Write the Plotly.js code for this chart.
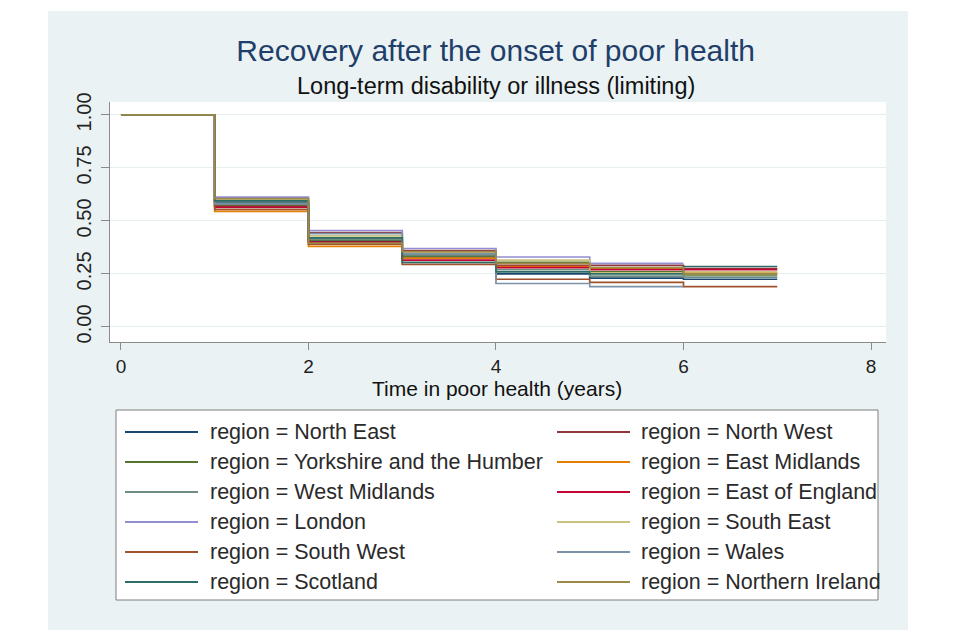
<!DOCTYPE html>
<html>
<head>
<meta charset="utf-8">
<script src="https://cdn.plot.ly/plotly-3.0.1.min.js"></script>
<style>
  html, body { margin: 0; padding: 0; background: #ffffff; width: 960px; height: 640px; overflow: hidden; }
  #chart { position: absolute; left: 48px; top: 11px; width: 860px; height: 619px; }
</style>
</head>
<body>
<div id="chart"></div>
<script>
// ---- Data (survival proportion at the start of each year) ----
const times = [0, 1, 2, 3, 4, 5, 6, 7];

const regionNames = [
  "North East", "North West", "Yorkshire and the Humber", "East Midlands",
  "West Midlands", "East of England", "London", "South East",
  "South West", "Wales", "Scotland", "Northern Ireland"
];

const northEast       = [1, 0.585, 0.405, 0.330, 0.250, 0.230, 0.225];
const northWest       = [1, 0.575, 0.445, 0.360, 0.290, 0.290, 0.275];
const yorkshire       = [1, 0.570, 0.410, 0.335, 0.305, 0.260, 0.245];
const eastMidlands    = [1, 0.545, 0.380, 0.325, 0.285, 0.275, 0.255];
const westMidlands    = [1, 0.590, 0.415, 0.340, 0.270, 0.240, 0.235];
const eastOfEngland   = [1, 0.565, 0.400, 0.315, 0.280, 0.270, 0.270];
const london          = [1, 0.612, 0.455, 0.370, 0.330, 0.300];
const southEast       = [1, 0.600, 0.430, 0.350, 0.315, 0.255, 0.260];
const southWest       = [1, 0.555, 0.390, 0.295, 0.225, 0.210, 0.190];
const wales           = [1, 0.580, 0.440, 0.345, 0.205, 0.190];
const scotland        = [1, 0.595, 0.420, 0.305, 0.260, 0.250, 0.285];
const northernIreland = [1, 0.605, 0.395, 0.355, 0.300, 0.280, 0.250];

const seriesValues = [
  northEast, northWest, yorkshire, eastMidlands, westMidlands, eastOfEngland,
  london, southEast, southWest, wales, scotland, northernIreland
];

const xTicks = [0, 2, 4, 6, 8];
const yTicks = [0, 0.25, 0.5, 0.75, 1];
const yTickText = ["0.00", "0.25", "0.50", "0.75", "1.00"];

// ---- Styles ----
const colors = [
  "#1a476f", "#90353b", "#55752f", "#e37e00", "#6e8e84", "#c10534",
  "#938dd2", "#cac27e", "#a0522d", "#7b92a8", "#2d6d66", "#9c8847"
];
const FONT = "Liberation Sans, Arial, sans-serif";

// ---- Traces (step functions) ----
const traces = seriesValues.map((vals, i) => {
  const n = vals.length;
  const xs = times.slice(0, n + 1);
  const ys = vals.concat([vals[n - 1]]);
  return {
    type: "scatter",
    mode: "lines",
    x: xs,
    y: ys,
    line: { shape: "hv", color: colors[i], width: 1.7 },
    name: "region = " + regionNames[i],
    showlegend: false,
    hoverinfo: "skip"
  };
});

// ---- Manual two-column legend (Stata style) ----
// plot area in page px: left 110, right 886, top 102, bottom 342
const PL = 110, PR = 886, PT = 102, PB = 342;
const px2x = p => (p - PL) / (PR - PL);
const px2y = p => 1 - (p - PT) / (PB - PT);

const shapes = [];
const annotations = [];

shapes.push({
  type: "rect", xref: "paper", yref: "paper",
  x0: px2x(116), x1: px2x(878), y0: px2y(600), y1: px2y(410),
  fillcolor: "#ffffff", line: { color: "#7f7f7f", width: 1 }, layer: "below"
});

regionNames.forEach((nm, i) => {
  const row = Math.floor(i / 2), col = i % 2;
  const yPx = 432 + row * 30;
  const lx0 = col === 0 ? 125 : 557;
  const tx = col === 0 ? 208 : 639;
  shapes.push({
    type: "line", xref: "paper", yref: "paper",
    x0: px2x(lx0), x1: px2x(lx0 + 73), y0: px2y(yPx), y1: px2y(yPx),
    line: { color: colors[i], width: 2 }
  });
  annotations.push({
    xref: "paper", yref: "paper", x: px2x(tx), y: px2y(yPx),
    xanchor: "left", yanchor: "middle", showarrow: false,
    text: "region = " + nm,
    font: { family: FONT, size: 21.5, color: "#2a2a2a" }
  });
});

// subtitle
annotations.push({
  xref: "paper", yref: "paper", x: 0.497, y: px2y(86),
  xanchor: "center", yanchor: "middle", showarrow: false,
  text: "Long-term disability or illness (limiting)",
  font: { family: FONT, size: 23.5, color: "#111111" }
});

// x-axis title
annotations.push({
  xref: "paper", yref: "paper", x: px2x(497), y: px2y(388),
  xanchor: "center", yanchor: "middle", showarrow: false,
  text: "Time in poor health (years)",
  font: { family: FONT, size: 21, color: "#111111" }
});

const layout = {
  width: 860, height: 619,
  paper_bgcolor: "#eaf2f3",
  plot_bgcolor: "#ffffff",
  margin: { l: PL - 48, r: 908 - PR, t: PT - 11, b: 630 - PB, pad: 0 },
  title: {
    text: "Recovery after the onset of poor health",
    font: { family: FONT, size: 30, color: "#1f3f6a" },
    x: 0.497, xanchor: "center", xref: "paper",
    y: 1 - (50 - 11) / 619, yanchor: "middle", yref: "container"
  },
  xaxis: {
    range: [-0.117, 8.16],
    tickvals: xTicks,
    ticktext: xTicks.map(String),
    ticks: "outside", ticklen: 7, tickcolor: "#8a8a8a", tickwidth: 1,
    showline: true, linecolor: "#8a8a8a", linewidth: 1, mirror: false,
    showgrid: false, zeroline: false,
    tickfont: { family: FONT, size: 19, color: "#222222" },
    ticklabelstandoff: 0,
    fixedrange: true
  },
  yaxis: {
    range: [-0.071, 1.061],
    tickvals: yTicks,
    ticktext: yTickText,
    tickangle: -90,
    ticks: "outside", ticklen: 8, tickcolor: "#8a8a8a", tickwidth: 1,
    showline: true, linecolor: "#8a8a8a", linewidth: 1, mirror: false,
    showgrid: true, gridcolor: "#e6eef0", gridwidth: 1, zeroline: false,
    tickfont: { family: FONT, size: 20, color: "#222222" },
    ticklabelstandoff: 2,
    fixedrange: true
  },
  shapes: shapes,
  annotations: annotations,
  showlegend: false
};

Plotly.newPlot("chart", traces, layout, { staticPlot: true, displayModeBar: false });
</script>
</body>
</html>
